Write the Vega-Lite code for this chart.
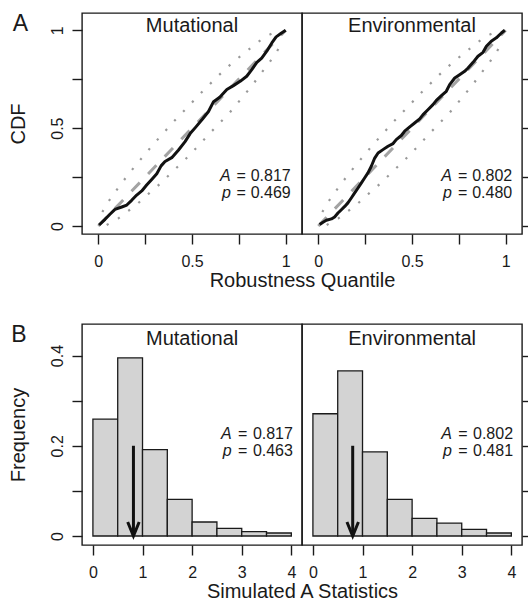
{
  "$schema": "https://vega.github.io/schema/vega-lite/v6.json",
  "padding": {"left": 7, "top": 12, "right": 0, "bottom": 0},
  "background": "white",
  "config": {
    "font": "Liberation Sans",
    "view": {"stroke": "#1a1a1a", "strokeWidth": 1.4},
    "axis": {"domain": false, "grid": false, "ticks": true, "tickSize": 10, "tickColor": "#1a1a1a", "tickWidth": 1.4, "labelFont": "Liberation Sans", "labelFontSize": 16, "labelColor": "#1a1a1a", "labelFlush": false, "labelOverlap": false, "titleFont": "Liberation Sans", "titleFontSize": 20, "titleFontWeight": "normal", "titleColor": "#1a1a1a"},
    "axisY": {"labelAngle": -90, "labelAlign": "center", "labelBaseline": "alphabetic", "labelPadding": 10, "titlePadding": 21},
    "axisX": {"labelPadding": 9, "titlePadding": 1},
    "text": {"font": "Liberation Sans", "color": "#1a1a1a"}
  },
  "datasets": {
    "diag": [{"x": 0, "y": 0}, {"x": 1, "y": 1}],
    "band": [
      {"side": "upper", "x": 0.0215, "y": 0.0715}, {"side": "upper", "x": 0.0536, "y": 0.1243}, {"side": "upper", "x": 0.0927, "y": 0.1771}, {"side": "upper", "x": 0.1336, "y": 0.2299}, {"side": "upper", "x": 0.1764, "y": 0.2827}, {"side": "upper", "x": 0.2191, "y": 0.3321}, {"side": "upper", "x": 0.2636, "y": 0.3832}, {"side": "upper", "x": 0.308, "y": 0.4326}, {"side": "upper", "x": 0.3526, "y": 0.4803}, {"side": "upper", "x": 0.3988, "y": 0.5297}, {"side": "upper", "x": 0.45, "y": 0.581}, {"side": "upper", "x": 0.497, "y": 0.628}, {"side": "upper", "x": 0.543, "y": 0.6745}, {"side": "upper", "x": 0.591, "y": 0.7205}, {"side": "upper", "x": 0.6409, "y": 0.7682}, {"side": "upper", "x": 0.6907, "y": 0.8125}, {"side": "upper", "x": 0.7423, "y": 0.855}, {"side": "upper", "x": 0.7939, "y": 0.8942}, {"side": "upper", "x": 0.8455, "y": 0.9351}, {"side": "upper", "x": 0.9025, "y": 0.9726}, {"side": "upper", "x": 0.955, "y": 0.995},
      {"side": "lower", "x": 0.0447, "y": 0.0051}, {"side": "lower", "x": 0.1052, "y": 0.0375}, {"side": "lower", "x": 0.1603, "y": 0.0766}, {"side": "lower", "x": 0.2137, "y": 0.1175}, {"side": "lower", "x": 0.2653, "y": 0.1618}, {"side": "lower", "x": 0.317, "y": 0.2044}, {"side": "lower", "x": 0.3668, "y": 0.2504}, {"side": "lower", "x": 0.4148, "y": 0.2947}, {"side": "lower", "x": 0.4629, "y": 0.3389}, {"side": "lower", "x": 0.5109, "y": 0.3867}, {"side": "lower", "x": 0.558, "y": 0.435}, {"side": "lower", "x": 0.6053, "y": 0.4838}, {"side": "lower", "x": 0.6533, "y": 0.5314}, {"side": "lower", "x": 0.6996, "y": 0.5774}, {"side": "lower", "x": 0.7441, "y": 0.6285}, {"side": "lower", "x": 0.7868, "y": 0.6779}, {"side": "lower", "x": 0.8295, "y": 0.7291}, {"side": "lower", "x": 0.8704, "y": 0.7818}, {"side": "lower", "x": 0.9114, "y": 0.8329}, {"side": "lower", "x": 0.9505, "y": 0.8874}, {"side": "lower", "x": 0.9844, "y": 0.9436}
    ],
    "cdf": [
      {"panel": "M", "x": 0.004, "y": 0.005}, {"panel": "M", "x": 0.036, "y": 0.034}, {"panel": "M", "x": 0.062, "y": 0.06}, {"panel": "M", "x": 0.089, "y": 0.085}, {"panel": "M", "x": 0.125, "y": 0.097}, {"panel": "M", "x": 0.152, "y": 0.107}, {"panel": "M", "x": 0.178, "y": 0.131}, {"panel": "M", "x": 0.205, "y": 0.158}, {"panel": "M", "x": 0.232, "y": 0.179}, {"panel": "M", "x": 0.258, "y": 0.209}, {"panel": "M", "x": 0.285, "y": 0.238}, {"panel": "M", "x": 0.312, "y": 0.267}, {"panel": "M", "x": 0.335, "y": 0.307}, {"panel": "M", "x": 0.356, "y": 0.329}, {"panel": "M", "x": 0.392, "y": 0.349}, {"panel": "M", "x": 0.427, "y": 0.387}, {"panel": "M", "x": 0.463, "y": 0.431}, {"panel": "M", "x": 0.49, "y": 0.472}, {"panel": "M", "x": 0.52, "y": 0.505}, {"panel": "M", "x": 0.555, "y": 0.545}, {"panel": "M", "x": 0.588, "y": 0.585}, {"panel": "M", "x": 0.615, "y": 0.635}, {"panel": "M", "x": 0.648, "y": 0.658}, {"panel": "M", "x": 0.686, "y": 0.697}, {"panel": "M", "x": 0.721, "y": 0.717}, {"panel": "M", "x": 0.757, "y": 0.739}, {"panel": "M", "x": 0.792, "y": 0.765}, {"panel": "M", "x": 0.819, "y": 0.799}, {"panel": "M", "x": 0.846, "y": 0.836}, {"panel": "M", "x": 0.872, "y": 0.858}, {"panel": "M", "x": 0.899, "y": 0.893}, {"panel": "M", "x": 0.926, "y": 0.935}, {"panel": "M", "x": 0.949, "y": 0.966}, {"panel": "M", "x": 0.974, "y": 0.983}, {"panel": "M", "x": 1.0, "y": 1.0},
      {"panel": "E", "x": 0.007, "y": 0.007}, {"panel": "E", "x": 0.025, "y": 0.019}, {"panel": "E", "x": 0.043, "y": 0.029}, {"panel": "E", "x": 0.07, "y": 0.036}, {"panel": "E", "x": 0.087, "y": 0.046}, {"panel": "E", "x": 0.105, "y": 0.066}, {"panel": "E", "x": 0.123, "y": 0.083}, {"panel": "E", "x": 0.141, "y": 0.1}, {"panel": "E", "x": 0.158, "y": 0.118}, {"panel": "E", "x": 0.176, "y": 0.143}, {"panel": "E", "x": 0.194, "y": 0.169}, {"panel": "E", "x": 0.212, "y": 0.194}, {"panel": "E", "x": 0.23, "y": 0.22}, {"panel": "E", "x": 0.247, "y": 0.245}, {"panel": "E", "x": 0.265, "y": 0.271}, {"panel": "E", "x": 0.283, "y": 0.305}, {"panel": "E", "x": 0.301, "y": 0.347}, {"panel": "E", "x": 0.319, "y": 0.373}, {"panel": "E", "x": 0.345, "y": 0.39}, {"panel": "E", "x": 0.372, "y": 0.407}, {"panel": "E", "x": 0.399, "y": 0.421}, {"panel": "E", "x": 0.416, "y": 0.441}, {"panel": "E", "x": 0.443, "y": 0.462}, {"panel": "E", "x": 0.461, "y": 0.484}, {"panel": "E", "x": 0.488, "y": 0.506}, {"panel": "E", "x": 0.514, "y": 0.526}, {"panel": "E", "x": 0.541, "y": 0.547}, {"panel": "E", "x": 0.559, "y": 0.569}, {"panel": "E", "x": 0.585, "y": 0.594}, {"panel": "E", "x": 0.612, "y": 0.62}, {"panel": "E", "x": 0.63, "y": 0.642}, {"panel": "E", "x": 0.657, "y": 0.666}, {"panel": "E", "x": 0.683, "y": 0.688}, {"panel": "E", "x": 0.701, "y": 0.722}, {"panel": "E", "x": 0.728, "y": 0.756}, {"panel": "E", "x": 0.754, "y": 0.773}, {"panel": "E", "x": 0.781, "y": 0.79}, {"panel": "E", "x": 0.799, "y": 0.807}, {"panel": "E", "x": 0.826, "y": 0.836}, {"panel": "E", "x": 0.852, "y": 0.867}, {"panel": "E", "x": 0.879, "y": 0.887}, {"panel": "E", "x": 0.897, "y": 0.918}, {"panel": "E", "x": 0.923, "y": 0.944}, {"panel": "E", "x": 0.95, "y": 0.961}, {"panel": "E", "x": 0.977, "y": 0.986}, {"panel": "E", "x": 0.995, "y": 1.0}
    ],
    "hist": [
      {"panel": "M", "x0": 0, "x1": 0.5, "freq": 0.259}, {"panel": "M", "x0": 0.5, "x1": 1, "freq": 0.395}, {"panel": "M", "x0": 1, "x1": 1.5, "freq": 0.1915}, {"panel": "M", "x0": 1.5, "x1": 2, "freq": 0.081}, {"panel": "M", "x0": 2, "x1": 2.5, "freq": 0.031}, {"panel": "M", "x0": 2.5, "x1": 3, "freq": 0.017}, {"panel": "M", "x0": 3, "x1": 3.5, "freq": 0.0095}, {"panel": "M", "x0": 3.5, "x1": 4, "freq": 0.0066},
      {"panel": "E", "x0": 0, "x1": 0.5, "freq": 0.271}, {"panel": "E", "x0": 0.5, "x1": 1, "freq": 0.366}, {"panel": "E", "x0": 1, "x1": 1.5, "freq": 0.1863}, {"panel": "E", "x0": 1.5, "x1": 2, "freq": 0.081}, {"panel": "E", "x0": 2, "x1": 2.5, "freq": 0.039}, {"panel": "E", "x0": 2.5, "x1": 3, "freq": 0.0287}, {"panel": "E", "x0": 3, "x1": 3.5, "freq": 0.0147}, {"panel": "E", "x0": 3.5, "x1": 4, "freq": 0.0066}
    ]
  },
  "spacing": 32,
  "vconcat": [
    {
      "bounds": "flush",
      "spacing": 0,
      "hconcat": [
        {
          "width": 220, "height": 221,
          "layer": [
            {"data": {"name": "diag"}, "mark": {"type": "line", "color": "#a3a3a3", "strokeWidth": 3, "strokeDash": [12, 12]},
             "encoding": {
               "x": {"field": "x", "type": "quantitative", "scale": {"domain": [-0.087, 1.087], "nice": false, "zero": false},
                     "axis": {"values": [0, 0.25, 0.5, 0.75, 1], "labelExpr": "datum.value == 0.25 || datum.value == 0.75 ? '' : format(datum.value, '~g')", "title": "Robustness Quantile", "titleX": 220}},
               "y": {"field": "y", "type": "quantitative", "scale": {"domain": [-0.041, 1.088], "nice": false, "zero": false},
                     "axis": {"values": [0, 0.25, 0.5, 0.75, 1], "labelExpr": "datum.value == 0.25 || datum.value == 0.75 ? '' : format(datum.value, '~g')", "title": "CDF"}}}},
            {"data": {"name": "band"}, "mark": {"type": "line", "color": "#999999", "strokeWidth": 2.2, "strokeDash": [2.2, 10.7]},
             "encoding": {"x": {"field": "x", "type": "quantitative"}, "y": {"field": "y", "type": "quantitative"}, "detail": {"field": "side"}}},
            {"data": {"name": "cdf"}, "transform": [{"filter": "datum.panel == 'M'"}], "mark": {"type": "line", "color": "#111111", "strokeWidth": 3, "strokeJoin": "round"},
             "encoding": {"x": {"field": "x", "type": "quantitative"}, "y": {"field": "y", "type": "quantitative"}}},
            {"data": {"values": [{}]}, "mark": {"type": "text", "text": "Mutational", "fontSize": 20, "align": "center", "baseline": "alphabetic"},
             "encoding": {"x": {"datum": 0.5}, "y": {"datum": 0.99}}},
            {"data": {"values": [{}]}, "mark": {"type": "text", "text": "A", "fontSize": 23, "align": "left", "baseline": "alphabetic"},
             "encoding": {"x": {"datum": -0.457}, "y": {"datum": 0.996}}},
            {"data": {"values": [{}]}, "mark": {"type": "text", "text": ["A", "p"], "fontStyle": "italic", "fontSize": 16, "align": "right", "baseline": "alphabetic", "lineHeight": 17},
             "encoding": {"x": {"datum": 0.707}, "y": {"datum": 0.232}}},
            {"data": {"values": [{}]}, "mark": {"type": "text", "text": ["=", "="], "fontSize": 16, "align": "center", "baseline": "alphabetic", "lineHeight": 17},
             "encoding": {"x": {"datum": 0.762}, "y": {"datum": 0.232}}},
            {"data": {"values": [{}]}, "mark": {"type": "text", "text": ["0.817", "0.469"], "fontSize": 16, "align": "right", "baseline": "alphabetic", "lineHeight": 17},
             "encoding": {"x": {"datum": 1.027}, "y": {"datum": 0.232}}}
          ]
        },
        {
          "width": 220, "height": 221,
          "layer": [
            {"data": {"name": "diag"}, "mark": {"type": "line", "color": "#a3a3a3", "strokeWidth": 3, "strokeDash": [12, 12]},
             "encoding": {
               "x": {"field": "x", "type": "quantitative", "scale": {"domain": [-0.087, 1.087], "nice": false, "zero": false},
                     "axis": {"values": [0, 0.25, 0.5, 0.75, 1], "labelExpr": "datum.value == 0.25 || datum.value == 0.75 ? '' : format(datum.value, '~g')", "title": null}},
               "y": {"field": "y", "type": "quantitative", "scale": {"domain": [-0.041, 1.088], "nice": false, "zero": false},
                     "axis": {"orient": "right", "values": [0, 0.25, 0.5, 0.75, 1], "labels": false, "title": null}}}},
            {"data": {"name": "band"}, "mark": {"type": "line", "color": "#999999", "strokeWidth": 2.2, "strokeDash": [2.2, 10.7]},
             "encoding": {"x": {"field": "x", "type": "quantitative"}, "y": {"field": "y", "type": "quantitative"}, "detail": {"field": "side"}}},
            {"data": {"name": "cdf"}, "transform": [{"filter": "datum.panel == 'E'"}], "mark": {"type": "line", "color": "#111111", "strokeWidth": 3, "strokeJoin": "round"},
             "encoding": {"x": {"field": "x", "type": "quantitative"}, "y": {"field": "y", "type": "quantitative"}}},
            {"data": {"values": [{}]}, "mark": {"type": "text", "text": "Environmental", "fontSize": 20, "align": "center", "baseline": "alphabetic"},
             "encoding": {"x": {"datum": 0.5}, "y": {"datum": 0.99}}},
            {"data": {"values": [{}]}, "mark": {"type": "text", "text": ["A", "p"], "fontStyle": "italic", "fontSize": 16, "align": "right", "baseline": "alphabetic", "lineHeight": 17},
             "encoding": {"x": {"datum": 0.713}, "y": {"datum": 0.232}}},
            {"data": {"values": [{}]}, "mark": {"type": "text", "text": ["=", "="], "fontSize": 16, "align": "center", "baseline": "alphabetic", "lineHeight": 17},
             "encoding": {"x": {"datum": 0.77}, "y": {"datum": 0.232}}},
            {"data": {"values": [{}]}, "mark": {"type": "text", "text": ["0.802", "0.480"], "fontSize": 16, "align": "right", "baseline": "alphabetic", "lineHeight": 17},
             "encoding": {"x": {"datum": 1.035}, "y": {"datum": 0.232}}}
          ]
        }
      ]
    },
    {
      "bounds": "flush",
      "spacing": 0,
      "hconcat": [
        {
          "width": 220, "height": 221,
          "layer": [
            {"data": {"name": "hist"}, "transform": [{"filter": "datum.panel == 'M'"}], "mark": {"type": "rect", "fill": "#d3d3d3", "stroke": "#1a1a1a", "strokeWidth": 1.3},
             "encoding": {
               "x": {"field": "x0", "type": "quantitative", "scale": {"domain": [-0.22, 4.215], "nice": false, "zero": false},
                     "axis": {"values": [0, 1, 2, 3, 4], "title": "Simulated A Statistics", "titleX": 220}},
               "x2": {"field": "x1"},
               "y": {"field": "freq", "type": "quantitative", "scale": {"domain": [-0.02, 0.47], "nice": false, "zero": false},
                     "axis": {"values": [0, 0.1, 0.2, 0.3, 0.4], "labelExpr": "datum.value == 0.1 || datum.value == 0.3 ? '' : format(datum.value, '~g')", "title": "Frequency"}},
               "y2": {"datum": 0}}},
            {"data": {"values": [{}]}, "mark": {"type": "rule", "color": "#111111", "strokeWidth": 3},
             "encoding": {"x": {"datum": 0.817}, "y": {"datum": 0.2}, "y2": {"datum": 0}}},
            {"data": {"values": [{}]}, "mark": {"type": "point", "shape": "M-0.41,-1L0,0L0.41,-1", "size": 784, "filled": false, "stroke": "#111111", "strokeWidth": 3, "opacity": 1},
             "encoding": {"x": {"datum": 0.817}, "y": {"datum": 0}}},
            {"data": {"values": [{}]}, "mark": {"type": "text", "text": "Mutational", "fontSize": 20, "align": "center", "baseline": "alphabetic"},
             "encoding": {"x": {"datum": 2.0}, "y": {"datum": 0.4234}}},
            {"data": {"values": [{}]}, "mark": {"type": "text", "text": "B", "fontSize": 23, "align": "left", "baseline": "alphabetic"},
             "encoding": {"x": {"datum": -1.647}, "y": {"datum": 0.4294}}},
            {"data": {"values": [{}]}, "mark": {"type": "text", "text": ["A", "p"], "fontStyle": "italic", "fontSize": 16, "align": "right", "baseline": "alphabetic", "lineHeight": 17},
             "encoding": {"x": {"datum": 2.796}, "y": {"datum": 0.2145}}},
            {"data": {"values": [{}]}, "mark": {"type": "text", "text": ["=", "="], "fontSize": 16, "align": "center", "baseline": "alphabetic", "lineHeight": 17},
             "encoding": {"x": {"datum": 3.019}, "y": {"datum": 0.2145}}},
            {"data": {"values": [{}]}, "mark": {"type": "text", "text": ["0.817", "0.463"], "fontSize": 16, "align": "right", "baseline": "alphabetic", "lineHeight": 17},
             "encoding": {"x": {"datum": 4.032}, "y": {"datum": 0.2145}}}
          ]
        },
        {
          "width": 220, "height": 221,
          "layer": [
            {"data": {"name": "hist"}, "transform": [{"filter": "datum.panel == 'E'"}], "mark": {"type": "rect", "fill": "#d3d3d3", "stroke": "#1a1a1a", "strokeWidth": 1.3},
             "encoding": {
               "x": {"field": "x0", "type": "quantitative", "scale": {"domain": [-0.22, 4.215], "nice": false, "zero": false},
                     "axis": {"values": [0, 1, 2, 3, 4], "title": null}},
               "x2": {"field": "x1"},
               "y": {"field": "freq", "type": "quantitative", "scale": {"domain": [-0.02, 0.47], "nice": false, "zero": false},
                     "axis": {"orient": "right", "values": [0, 0.1, 0.2, 0.3, 0.4], "labels": false, "title": null}},
               "y2": {"datum": 0}}},
            {"data": {"values": [{}]}, "mark": {"type": "rule", "color": "#111111", "strokeWidth": 3},
             "encoding": {"x": {"datum": 0.802}, "y": {"datum": 0.2}, "y2": {"datum": 0}}},
            {"data": {"values": [{}]}, "mark": {"type": "point", "shape": "M-0.41,-1L0,0L0.41,-1", "size": 784, "filled": false, "stroke": "#111111", "strokeWidth": 3, "opacity": 1},
             "encoding": {"x": {"datum": 0.802}, "y": {"datum": 0}}},
            {"data": {"values": [{}]}, "mark": {"type": "text", "text": "Environmental", "fontSize": 20, "align": "center", "baseline": "alphabetic"},
             "encoding": {"x": {"datum": 2.0}, "y": {"datum": 0.4234}}},
            {"data": {"values": [{}]}, "mark": {"type": "text", "text": ["A", "p"], "fontStyle": "italic", "fontSize": 16, "align": "right", "baseline": "alphabetic", "lineHeight": 17},
             "encoding": {"x": {"datum": 2.802}, "y": {"datum": 0.2145}}},
            {"data": {"values": [{}]}, "mark": {"type": "text", "text": ["=", "="], "fontSize": 16, "align": "center", "baseline": "alphabetic", "lineHeight": 17},
             "encoding": {"x": {"datum": 3.025}, "y": {"datum": 0.2145}}},
            {"data": {"values": [{}]}, "mark": {"type": "text", "text": ["0.802", "0.481"], "fontSize": 16, "align": "right", "baseline": "alphabetic", "lineHeight": 17},
             "encoding": {"x": {"datum": 4.035}, "y": {"datum": 0.2145}}}
          ]
        }
      ]
    }
  ]
}
